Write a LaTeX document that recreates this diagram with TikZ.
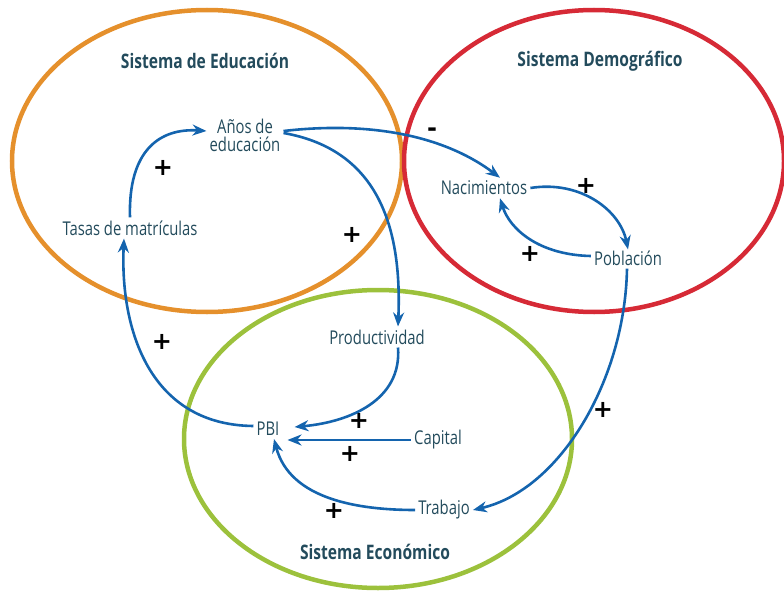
\documentclass[tikz,border=0pt]{standalone}
\usepackage{fontspec}
\setmainfont{Open Sans}[FakeStretch=0.78]
\newfontfamily\signfont{DejaVu Sans}
\usetikzlibrary{arrows.meta}
\definecolor{txt}{HTML}{234B5C}
\definecolor{arr}{HTML}{1464AE}
\definecolor{cedu}{HTML}{E5902C}
\definecolor{cdem}{HTML}{D62A36}
\definecolor{ceco}{HTML}{9CC13C}
\tikzset{
  lbl/.style={text=txt,font=\fontsize{19}{21}\selectfont,inner sep=3pt,align=center},
  ttl/.style={text=txt,font=\fontsize{20}{22}\selectfont\bfseries},
  sgn/.style={text=black,font=\signfont\fontsize{24}{24}\selectfont\bfseries,inner sep=0pt},
  lnk/.style={draw=arr,line width=2.6pt,-{Stealth[length=14pt,width=11pt,inset=4.5pt]}},
  sys/.style={line width=4.5pt}
}
\begin{document}
\begin{tikzpicture}[x=1pt,y=-1pt]
\useasboundingbox (0,0) rectangle (784,591);
% system ellipses
\draw[sys,cedu] (207,161) ellipse [x radius=195,y radius=151];
\draw[sys,cdem] (594,161) ellipse [x radius=190,y radius=151];
\draw[sys,ceco] (378,439) ellipse [x radius=194,y radius=149];
% titles
\node[ttl] (tedu) at (205,61) {Sistema de Educación};
\node[ttl] (tdem) at (600,61) {Sistema Demográfico};
\node[ttl] (teco) at (375,552) {Sistema Económico};
% variables
\node[lbl] (anos) at (245,135) {Años de\\[-3pt]educación};
\node[lbl] (tasas) at (130,228) {Tasas de matrículas};
\node[lbl] (nac) at (484,188) {Nacimientos};
\node[lbl] (pob) at (628,258) {Población};
\node[lbl] (prod) at (377,337) {Productividad};
\node[lbl] (pbi) at (268,429) {PBI};
\node[lbl] (cap) at (438,440) {Capital};
\node[lbl] (trab) at (444,510) {Trabajo};
\coordinate (pbicap) at ([xshift=5pt]pbi.east);
% links
\draw[lnk] (tasas.north) .. controls (128,150) and (160,128) .. ([yshift=4pt]anos.west);
\draw[lnk] ([yshift=4pt]anos.east) .. controls (380,120) and (450,140) .. ([xshift=16pt]nac.north);
\draw[lnk] ([yshift=2pt]anos.east) .. controls (380,150) and (402,230) .. ([xshift=21pt]prod.north);
\draw[lnk] (nac.east) .. controls (580,180) and (620,210) .. ([yshift=-2pt]pob.north);
\draw[lnk] ([yshift=2pt]pob.west) .. controls (540,255) and (510,230) .. ([xshift=16pt]nac.south);
\draw[lnk] ([xshift=-1pt]pob.south) .. controls (625,380) and (560,490) .. (trab.east);
\draw[lnk] ([xshift=21pt]prod.south) .. controls (402,400) and (350,422) .. ([shift={(12pt,2pt)}]pbi.east);
\draw[lnk] (cap.west) -- (cap.west -| pbicap);
\draw[lnk] (trab.west) .. controls (360,510) and (290,500) .. ([xshift=6pt]pbi.south);
\draw[lnk] ([yshift=3pt]pbi.west) .. controls (150,425) and (120,330) .. ([xshift=-6pt]tasas.south);
% polarities
\node[sgn] (s1) at (163,168) {+};
\node[sgn] (s2) at (432,132) {-};
\node[sgn] (s3) at (352,235) {+};
\node[sgn] (s4) at (586,186) {+};
\node[sgn] (s5) at (530,254) {+};
\node[sgn] (s6) at (603,410) {+};
\node[sgn] (s7) at (359,421) {+};
\node[sgn] (s8) at (350,454) {+};
\node[sgn] (s9) at (334,511) {+};
\node[sgn] (s10) at (162,342) {+};
\end{tikzpicture}
\end{document}
